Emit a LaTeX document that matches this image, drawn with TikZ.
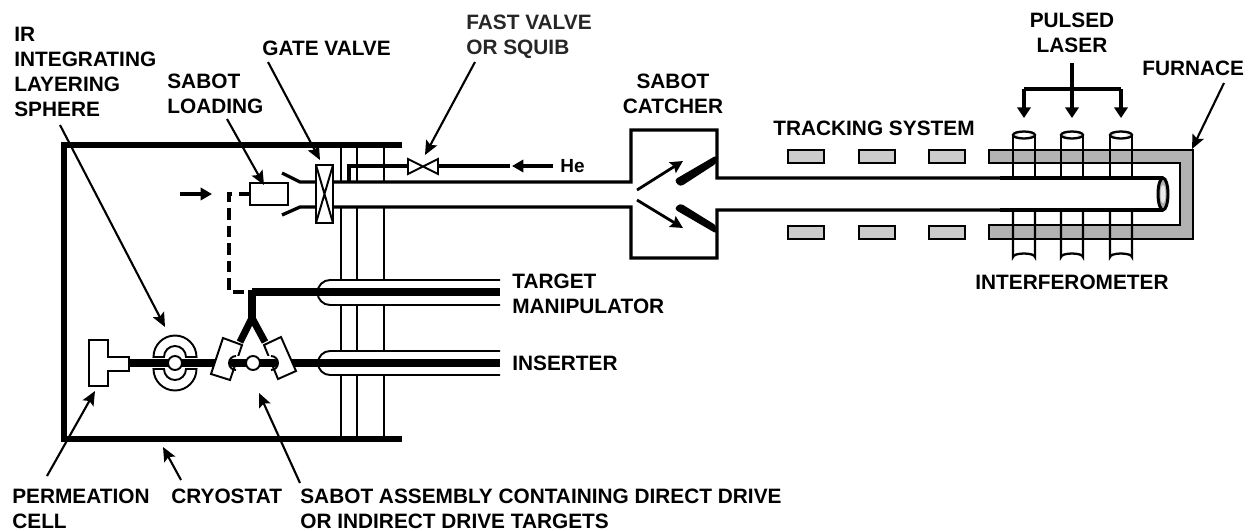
\documentclass[tikz,border=0pt]{standalone}
\usepackage{fontspec}
\setmainfont{Liberation Sans}
\usetikzlibrary{arrows.meta}
\tikzset{
  lab/.style={font=\fontsize{11.85pt}{14.2pt}\selectfont\bfseries,inner sep=0pt,align=left,anchor=north west,text=black},
  labc/.style={lab,align=center,anchor=north},
  wall/.style={line width=2.9pt},
  tubeline/.style={line width=1.9pt},
  thinline/.style={line width=1.1pt},
  rodline/.style={line width=4pt},
  leader/.style={line width=1.2pt,-{Stealth[length=8pt,width=7pt,inset=1.5pt]}},
  bigarrow/.style={line width=2pt,-{Stealth[length=6.5pt,width=7pt,inset=0pt]}},
  tracker/.style={thinline,fill=black!20}
}
\begin{document}
\begin{tikzpicture}[x=0.02cm,y=-0.02cm]
\useasboundingbox (0,0) rectangle (1255,531);
% cryostat
\draw[wall] (402,145) -- (64,145) -- (64,439) -- (402,439);
\foreach \x in {341,357,384}
  \draw[thinline] (\x,147) -- (\x,437);
% he feed
\coordinate (hefeed) at (349,182);
\coordinate (valvel) at (408,166);
\coordinate (valver) at (438,166);
\draw[tubeline] (hefeed) -- (349,166) -- (valvel);
\draw[tubeline] (valver) -- (510,166);
\draw[thinline,fill=white] (408,159) -- (438,174) -- (438,159) -- (408,174) -- cycle;
% transport tube
\fill[white] (300,182) rectangle (632,207);
\draw[tubeline] (282,173) -- (300,182) -- (631,182) -- (631,130) -- (717,130) -- (717,178) -- (1163,178);
\draw[tubeline] (282,215) -- (300,207) -- (631,207) -- (631,258) -- (717,258) -- (717,210) -- (1163,210);
\draw[thinline,fill=white] (250,183) rectangle (288,205);
\draw[thinline,fill=white] (316,165) rectangle (333,223);
\draw[thinline] (316,165) -- (333,223) (333,165) -- (316,223);
\draw[line width=2.3pt,dash pattern=on 6.5pt off 3.5pt] (250,194) -- (229,194) -- (229,292) -- (252,292);
\draw[bigarrow] (180,194) -- (212,194);
% catcher
\fill[rounded corners=2pt] (717,155) -- (717,163) -- (680,187) -- (674,180) -- cycle;
\fill[rounded corners=2pt] (717,234) -- (717,226) -- (680,203) -- (674,209) -- cycle;
\draw[line width=1.6pt,-{Stealth[length=7pt,width=7pt,inset=1pt]}] (637,190) -- (683,161);
\draw[line width=1.6pt,-{Stealth[length=7pt,width=7pt,inset=1pt]}] (637,200) -- (683,228);
% tracking
\foreach \x in {788,859,929} {
  \draw[tracker] (\x,150) rectangle ++(36,13);
  \draw[tracker] (\x,226) rectangle ++(36,13);
}
% furnace
\draw[thinline,fill=black!30] (989,150) -- (1193,150) -- (1193,239) -- (989,239) -- (989,225) -- (1180,225) -- (1180,163) -- (989,163) -- cycle;
% interferometer tubes
\foreach \x in {1024,1072,1121} {
  \draw[line width=1.3pt] (\x-11,135) -- (\x-11,177) (\x+11,135) -- (\x+11,177);
  \draw[line width=1.3pt] (\x-11,211) -- (\x-11,257) arc[start angle=180,end angle=0,x radius=11,y radius=-3.5] -- (\x+11,211);
  \draw[line width=1.3pt,fill=black!12] (\x,135) ellipse[x radius=11,y radius=3.5];
  \fill[white] (\x,135) ellipse[x radius=6.5,y radius=2];
}
\fill[white] (1000,179) rectangle (1163,209);
\draw[tubeline] (1000,178) -- (1163,178) (1000,210) -- (1163,210);
\draw[line width=1.7pt,fill=black!30] (1163,194) ellipse[x radius=5,y radius=16];
\fill[black!8] (1163,194) ellipse[x radius=2.5,y radius=9];
% manipulator and inserter
\draw[thinline,fill=white] (500,280) -- (330,280) arc[start angle=270,end angle=90,radius=12.5] -- (500,305);
\draw[thinline,fill=white] (500,351) -- (330,351) arc[start angle=270,end angle=90,radius=12] -- (500,375);
\draw[rodline] (252,292) -- (500,292);
\draw[rodline] (129,363) -- (500,363);
\draw[rodline] (252,290) -- (252,318);
\draw[rodline,line join=round] (240,342) -- (252,318) -- (265,342);
% permeation cell
\draw[thinline,fill=white] (89,340) -- (108,340) -- (108,357) -- (129,357) -- (129,371) -- (108,371) -- (108,386) -- (89,386) -- cycle;
% layering sphere
\foreach \yc/\e in {357/360,369/0}
  \draw[thinline,fill=white] (153.5,\yc) arc[start angle=180,end angle=\e,radius=21.5]
    -- (186,\yc) arc[start angle=\e,end angle=180,radius=11] -- cycle;
\draw[thinline,fill=white] (175,363) circle[radius=7];
% sabot assembly
\draw[thinline,fill=white] (223,338) -- (242,345) -- (230,380) -- (211,374) -- cycle;
\draw[thinline,fill=white] (264,345) -- (281,337) -- (296,371) -- (278,379) -- cycle;
\fill[white] (236,356) rectangle (271,370);
\draw[thinline] (236,356) arc[start angle=270,end angle=90,radius=7];
\draw[thinline] (271,356) arc[start angle=-90,end angle=90,radius=7];
\draw[rodline,line cap=round] (232,363) -- (275,363);
\draw[thinline,fill=white] (253,363) circle[radius=7];
% laser lines
\draw[line width=2pt] (1024,89) -- (1121,89);
\foreach \x in {1024,1072,1121}
  \draw[line width=2pt,-{Stealth[length=6pt,width=7.5pt,inset=0pt]}] (\x,89) -- (\x,118);
\draw[line width=2pt] (1072,63) -- (1072,89);
% labels
\node[lab] (irsphere) at (14,26.5) {IR\\INTEGRATING\\LAYERING\\SPHERE};
\node[lab] (sabotload) at (167,74) {SABOT\\LOADING};
\node[lab] (gatevalve) at (262,41) {GATE VALVE};
\node[lab,text=black!85] (fastvalve) at (466,15) {FAST VALVE\\OR SQUIB};
\node[lab,font=\fontsize{10.8pt}{14.2pt}\selectfont\bfseries] (he) at (560,159) {He};
\node[labc] (catcher) at (673,74) {SABOT\\CATCHER};
\node[lab] (tracking) at (773,121) {TRACKING SYSTEM};
\node[labc] (laser) at (1072,13) {PULSED\\LASER};
\node[lab] (furnace) at (1142,61) {FURNACE};
\node[labc] (interf) at (1072,275) {INTERFEROMETER};
\node[lab] (manip) at (512,274) {TARGET\\MANIPULATOR};
\node[lab] (inserter) at (512,356) {INSERTER};
\node[lab] (permcell) at (12,489) {PERMEATION\\CELL};
\node[lab] (cryostat) at (171,489) {CRYOSTAT};
\node[lab] (assembly) at (300,489) {SABOT ASSEMBLY CONTAINING DIRECT DRIVE\\OR INDIRECT DRIVE TARGETS};
% leaders
\draw[leader] (60,125) -- (165,327);
\draw[leader] (227,119) -- (264,185);
\draw[leader] (268,62) -- (320,160);
\draw[leader] (475,62) -- (425,155);
\draw[leader] (1224,83) -- (1192,149);
\draw[leader] (47,476) -- (95,391);
\draw[leader] (181,480) -- (163,447);
\draw[leader] (300,483) -- (259,393);
\draw[bigarrow] (553,166) -- (512,166);
\end{tikzpicture}
\end{document}
